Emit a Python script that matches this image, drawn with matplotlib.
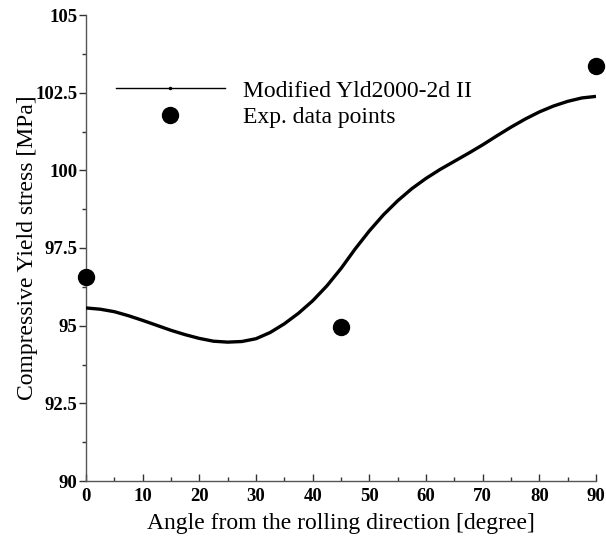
import matplotlib
matplotlib.use("Agg")
import matplotlib.pyplot as plt
from matplotlib.lines import Line2D
from matplotlib.ticker import MultipleLocator

# Model curve
angle_curve = [0, 2.5, 5, 7.5, 10, 12.5, 15, 17.5, 20, 22.5, 25, 27.5, 30, 32.5, 35,
               37.5, 40, 42.5, 45, 47.5, 50, 52.5, 55, 57.5, 60, 62.5, 65, 67.5, 70,
               72.5, 75, 77.5, 80, 82.5, 85, 87.5, 90]
stress_curve = [95.57, 95.53, 95.45, 95.32, 95.17, 95.01, 94.85, 94.71, 94.59, 94.50, 94.47, 94.49, 94.58, 94.78, 95.06,
                95.40, 95.80, 96.28, 96.84, 97.47, 98.05, 98.57, 99.02, 99.41, 99.74, 100.03, 100.29, 100.55, 100.82,
                101.11, 101.39, 101.65, 101.88, 102.07, 102.22, 102.33, 102.38]

# Experimental data
angle_exp = [0, 45, 90]
stress_exp = [96.57, 94.96, 103.36]

series_names = ["Modified Yld2000-2d II", "Exp. data points"]
xlabel = "Angle from the rolling direction [degree]"
ylabel = "Compressive Yield stress [MPa]"

plt.rcParams['font.family'] = ['Liberation Serif', 'DejaVu Serif']

fig = plt.figure(figsize=(6.06, 5.42), dpi=100)
ax = fig.add_axes([86/606, 1-481/542, (596-86)/606, (481-15)/542])

ax.plot(angle_curve, stress_curve, color='black', lw=2.4, solid_capstyle='butt', zorder=3)
ax.plot(angle_exp, stress_exp, 'o', color='black', markersize=11.5, clip_on=False, zorder=4)

ax.set_xlim(0, 90)
ax.set_ylim(90, 105)
ax.xaxis.set_major_locator(MultipleLocator(10))
ax.xaxis.set_minor_locator(MultipleLocator(5))
ax.yaxis.set_major_locator(MultipleLocator(2.5))
ax.yaxis.set_minor_locator(MultipleLocator(1.25))
ax.yaxis.set_major_formatter(matplotlib.ticker.FuncFormatter(lambda v, p: f"{v:g}"))

for s in ['top', 'right']:
    ax.spines[s].set_visible(False)
for s in ['left', 'bottom']:
    ax.spines[s].set_color('#555555')
    ax.spines[s].set_linewidth(1.0)

ax.tick_params(axis='x', which='major', direction='in', length=5, width=1, color='#333333', pad=5)
ax.tick_params(axis='x', which='minor', direction='in', length=3, width=1, color='#333333')
ax.tick_params(axis='y', which='major', direction='out', length=5, width=1, color='#333333', pad=1)
ax.tick_params(axis='y', which='minor', direction='out', length=3, width=1, color='#333333')
for lab in ax.get_xticklabels() + ax.get_yticklabels():
    lab.set_fontweight('bold')
    lab.set_fontsize(13.5)

ax.set_xlabel(xlabel, fontsize=17, labelpad=6)
ax.set_ylabel(ylabel, fontsize=17, labelpad=-1.5)

handles = [Line2D([0], [0], color='black', lw=1, marker='.', markersize=3),
           Line2D([0], [0], color='black', lw=0, marker='o', markersize=11.5)]
leg = ax.legend(handles, series_names, loc='upper left', bbox_to_anchor=(30/510, (481-80)/466),
                frameon=False, fontsize=17, handlelength=4.6, handletextpad=0.8,
                labelspacing=0.2, numpoints=1, borderpad=0, borderaxespad=0)

fig.savefig("out.png", dpi=100)
